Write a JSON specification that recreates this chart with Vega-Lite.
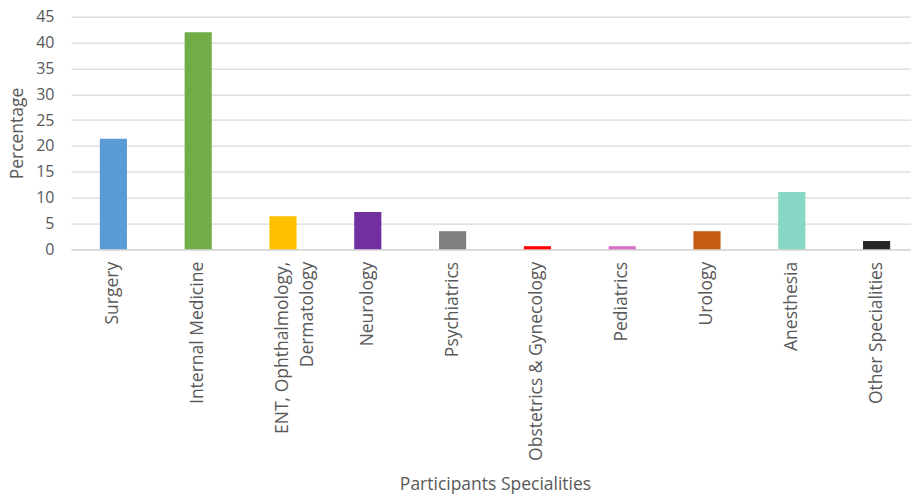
{
  "$schema": "https://vega.github.io/schema/vega-lite/v6.json",
  "width": 848,
  "height": 232.6,
  "autosize": "none",
  "padding": {"left": 71, "top": 16.7, "right": 0, "bottom": 248},
  "background": "white",
  "config": {
    "view": {"stroke": null},
    "font": "Open Sans"
  },
  "data": {
    "values": [
      {"specialty": "Surgery", "pct": 21.4, "color": "#5B9BD5"},
      {"specialty": "Internal Medicine", "pct": 42.0, "color": "#70AD47"},
      {"specialty": "ENT, Ophthalmology, Dermatology", "pct": 6.4, "color": "#FFC000"},
      {"specialty": "Neurology", "pct": 7.2, "color": "#7030A0"},
      {"specialty": "Psychiatrics", "pct": 3.5, "color": "#7F7F7F"},
      {"specialty": "Obstetrics & Gynecology", "pct": 0.6, "color": "#FF0000"},
      {"specialty": "Pediatrics", "pct": 0.6, "color": "#D86DC7"},
      {"specialty": "Urology", "pct": 3.5, "color": "#C55A11"},
      {"specialty": "Anesthesia", "pct": 11.1, "color": "#88D6C4"},
      {"specialty": "Other Specialities", "pct": 1.6, "color": "#262626"}
    ]
  },
  "mark": {"type": "bar"},
  "encoding": {
    "x": {
      "field": "specialty",
      "type": "nominal",
      "sort": null,
      "scale": {"paddingInner": 0.68, "paddingOuter": 0.34},
      "axis": {
        "title": "Participants Specialities",
        "titleFont": "Open Sans",
        "titleFontSize": 17.5,
        "titleFontWeight": "normal",
        "titleColor": "#595959",
        "titleY": 240,
        "titleBaseline": "alphabetic",
        "labelAngle": -90,
        "labelFontSize": 17.5,
        "labelColor": "#595959",
        "labelPadding": 12,
        "labelLimit": 300,
        "labelLineHeight": 25,
        "labelExpr": "datum.value == 'ENT, Ophthalmology, Dermatology' ? ['ENT, Ophthalmology,', 'Dermatology'] : datum.label",
        "ticks": false,
        "domainColor": "#D9D9D9",
        "domainWidth": 1.5,
        "grid": false
      }
    },
    "y": {
      "field": "pct",
      "type": "quantitative",
      "scale": {"domain": [0, 45], "nice": false},
      "axis": {
        "title": "Percentage",
        "titleFont": "Open Sans",
        "titleFontSize": 17.5,
        "titleFontWeight": "normal",
        "titleColor": "#595959",
        "titleX": -49,
        "titleBaseline": "alphabetic",
        "values": [0, 5, 10, 15, 20, 25, 30, 35, 40, 45],
        "labelFontSize": 16,
        "labelColor": "#595959",
        "labelPadding": 17,
        "ticks": false,
        "domain": false,
        "grid": true,
        "gridColor": "#D9D9D9",
        "gridWidth": 1.3
      }
    },
    "color": {"field": "color", "type": "nominal", "scale": null, "legend": null}
  }
}
